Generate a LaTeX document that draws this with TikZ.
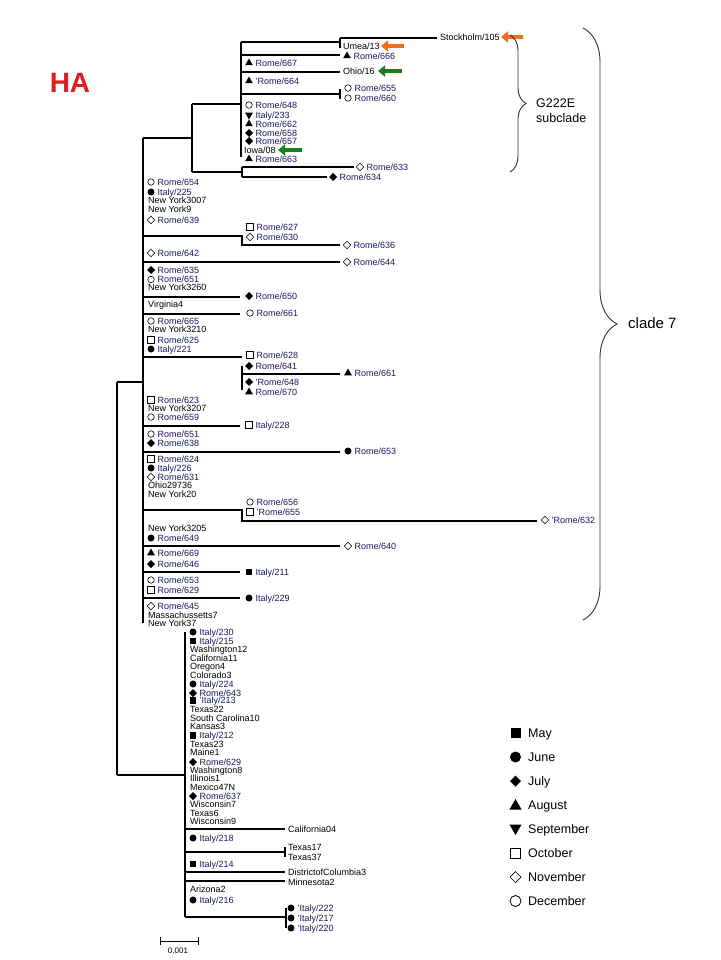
\documentclass[tikz,border=0pt]{standalone}
\usepackage{fontspec}
\setmainfont{Liberation Sans}
\usetikzlibrary{shapes.geometric,decorations.pathreplacing,arrows.meta}
\definecolor{navy}{RGB}{25,25,95}
\definecolor{hared}{RGB}{225,30,30}
\definecolor{arrgreen}{RGB}{25,125,30}
\definecolor{arrorange}{RGB}{245,110,30}
\definecolor{bracegray}{RGB}{50,50,50}
\tikzset{
 sym/.style={inner sep=0pt,outer sep=0pt,line width=0.6pt},
 fsq/.style={sym,rectangle,fill=black,minimum size=6.5pt},
 fci/.style={sym,circle,fill=black,minimum size=7pt},
 fdi/.style={sym,diamond,fill=black,minimum width=8pt,minimum height=8pt},
 ftu/.style={sym,regular polygon,regular polygon sides=3,fill=black,minimum size=9pt},
 ftd/.style={ftu,shape border rotate=180},
 osq/.style={sym,rectangle,draw=black,fill=white,minimum size=6.5pt},
 odi/.style={sym,diamond,draw=black,fill=white,minimum width=7.5pt,minimum height=7.5pt},
 oci/.style={sym,circle,draw=black,fill=white,minimum size=6.5pt},
 lbl/.style={anchor=west,inner sep=0pt,text height=6.4pt,text depth=0pt,font=\fontsize{9}{10}\selectfont,text=navy},
 lblk/.style={lbl,text=black},
 leg/.style={anchor=west,inner sep=0pt,text height=9pt,text depth=0pt,font=\fontsize{12.5}{14}\selectfont,text=black},
 br/.style={line width=1.1pt,black},
 fatarrow/.style={line width=4.5pt,-{Triangle[length=7pt,width=11pt]}},
 cbrace/.style={decorate,line width=0.9pt,draw=bracegray},
}
\newcommand\leafS[5]{\node[#4] (#1m) at (#2,#3) {}; \node[lbl] (#1) at (#2+6.5,#3) {#5};}
\newcommand\leafT[4]{\node[lblk] (#1) at (#2,#3) {#4};}
\begin{document}
\begin{tikzpicture}[x=1pt,y=-1pt]
\fill[white] (0,0) rectangle (720,960);
\useasboundingbox (0,0) rectangle (720,960);

\node[inner sep=0pt,font=\fontsize{28}{28}\selectfont\bfseries,text=hared] (HA) at (70,83) {HA};

% ---------- tree branches ----------
% root
\draw[br] (117,382) -- (117,775);
\draw[br] (117,382) -- (143,382);
\draw[br] (117,775) -- (185,775);
% clade 7 backbone
\draw[br] (143,138) -- (143,623);
\draw[br] (143,138) -- (192,138);
% G222E subclade
\draw[br] (192,104) -- (192,172);
\draw[br] (192,104) -- (241,104);
\draw[br] (241,42) -- (241,157);
\draw[br] (241,42) -- (340,42);
\draw[br] (340,38) -- (340,48);
\draw[br] (340,38) -- (437,38);
\draw[br] (241,55) -- (340,55);
\draw[br] (241,72) -- (340,72);
\draw[br] (241,94) -- (340,94);
\draw[br] (340,89) -- (340,99);
\draw[br] (192,172) -- (242,172);
\draw[br] (242,167) -- (242,177);
\draw[br] (242,167) -- (354,167);
\draw[br] (242,177) -- (327,177);
% clade 7 branches
\draw[br] (143,236) -- (242,236) -- (242,245) -- (340,245);
\draw[br] (143,262) -- (340,262);
\draw[br] (143,297) -- (240,297);
\draw[br] (143,314) -- (240,314);
\draw[br] (143,357) -- (242,357);
\draw[br] (242,366) -- (242,390);
\draw[br] (242,374) -- (340,374);
\draw[br] (143,426) -- (240,426);
\draw[br] (143,452) -- (340,452);
\draw[br] (143,510) -- (242,510) -- (242,521) -- (537,521);
\draw[br] (143,546) -- (340,546);
\draw[br] (143,572) -- (240,572);
\draw[br] (143,598) -- (240,598);
% lower clade
\draw[br] (185,632) -- (185,917);
\draw[br] (185,829) -- (285,829);
\draw[br] (185,852) -- (285,852);
\draw[br] (285,847) -- (285,857);
\draw[br] (185,872) -- (285,872);
\draw[br] (185,881) -- (285,881);
\draw[br] (185,917) -- (286,917);
\draw[br] (286,908) -- (286,928);

% ---------- leaves: subclade ----------
\leafT{sto}{440}{37}{Stockholm/105}
\leafT{ume}{343}{46}{Umea/13}
\leafS{r666}{347}{56}{ftu}{Rome/666}
\leafT{ohio16}{343}{71}{Ohio/16}
\leafS{r655a}{348}{88}{oci}{Rome/655}
\leafS{r660}{348}{98}{oci}{Rome/660}
\leafS{r667}{249}{63}{ftu}{Rome/667}
\leafS{r664}{249}{81}{ftu}{'Rome/664}
\leafS{r648a}{249}{105}{oci}{Rome/648}
\leafS{i233}{249}{115}{ftd}{Italy/233}
\leafS{r662}{249}{124}{ftu}{Rome/662}
\leafS{r658}{249}{133}{fdi}{Rome/658}
\leafS{r657}{249}{141}{fdi}{Rome/657}
\leafT{iowa}{244}{150}{Iowa/08}
\leafS{r663}{249}{159}{ftu}{Rome/663}
\leafS{r633}{360}{167}{odi}{Rome/633}
\leafS{r634}{333}{177}{fdi}{Rome/634}

% ---------- leaves: clade 7 ----------
\leafS{c654}{151}{182}{oci}{Rome/654}
\leafS{c225}{151}{192}{fci}{Italy/225}
\leafT{ny3007}{148}{200}{New York3007}
\leafT{ny9}{148}{209}{New York9}
\leafS{c639}{151}{220}{odi}{Rome/639}
\leafS{c627}{250}{227}{osq}{Rome/627}
\leafS{c630}{250}{237}{odi}{Rome/630}
\leafS{c636}{347}{245}{odi}{Rome/636}
\leafS{c642}{151}{253}{odi}{Rome/642}
\leafS{c644}{347}{262}{odi}{Rome/644}
\leafS{c635}{151}{270}{fdi}{Rome/635}
\leafS{c651a}{151}{279.5}{oci}{Rome/651}
\leafT{ny3260}{148}{287.5}{New York3260}
\leafS{c650}{249}{296}{fdi}{Rome/650}
\leafT{va4}{148}{304}{Virginia4}
\leafS{c661a}{250}{313}{oci}{Rome/661}
\leafS{c665}{151}{321}{oci}{Rome/665}
\leafT{ny3210}{148}{329}{New York3210}
\leafS{c625}{151}{340}{osq}{Rome/625}
\leafS{c221}{151}{349}{fci}{Italy/221}
\leafS{c628}{250}{355}{osq}{Rome/628}
\leafS{c641}{249}{366}{fdi}{Rome/641}
\leafS{c661b}{348}{373}{ftu}{Rome/661}
\leafS{c648b}{249}{382}{fdi}{'Rome/648}
\leafS{c670}{249}{392}{ftu}{Rome/670}
\leafS{c623}{151}{400}{osq}{Rome/623}
\leafT{ny3207}{148}{408}{New York3207}
\leafS{c659}{151}{417}{oci}{Rome/659}
\leafS{c228}{249}{425}{osq}{Italy/228}
\leafS{c651b}{151}{434}{oci}{Rome/651}
\leafS{c638}{151}{443}{fdi}{Rome/638}
\leafS{c653a}{348}{451}{fci}{Rome/653}
\leafS{c624}{151}{459}{osq}{Rome/624}
\leafS{c226}{151}{468}{fci}{Italy/226}
\leafS{c631}{151}{477}{odi}{Rome/631}
\leafT{oh29736}{148}{485}{Ohio29736}
\leafT{ny20}{148}{494}{New York20}
\leafS{c656}{250}{502}{oci}{Rome/656}
\leafS{c655b}{250}{512}{osq}{'Rome/655}
\leafS{c632}{545}{520}{odi}{'Rome/632}
\leafT{ny3205}{148}{528}{New York3205}
\leafS{c649}{151}{538}{fci}{Rome/649}
\leafS{c640}{348}{546}{odi}{Rome/640}
\leafS{c669}{151}{553}{ftu}{Rome/669}
\leafS{c646}{151}{564}{fdi}{Rome/646}
\leafS{c211}{249}{572}{fsq}{Italy/211}
\leafS{c653b}{151}{580}{oci}{Rome/653}
\leafS{c629a}{151}{590}{osq}{Rome/629}
\leafS{c229}{249}{598}{fci}{Italy/229}
\leafS{c645}{151}{606}{odi}{Rome/645}
\leafT{ma7}{148}{615}{Massachussetts7}
\leafT{ny37}{148}{623}{New York37}

% ---------- leaves: lower clade ----------
\leafS{l230}{193}{632}{fci}{Italy/230}
\leafS{l215}{193}{641}{fsq}{Italy/215}
\leafT{wa12}{190}{649}{Washington12}
\leafT{ca11}{190}{658}{California11}
\leafT{or4}{190}{666}{Oregon4}
\leafT{co3}{190}{675}{Colorado3}
\leafS{l224}{193}{684}{fci}{Italy/224}
\leafS{l643}{193}{693}{fdi}{Rome/643}
\leafS{l213}{193}{700.5}{fsq}{'Italy/213}
\leafT{tx22}{190}{709.5}{Texas22}
\leafT{sc10}{190}{718}{South Carolina10}
\leafT{ks3}{190}{726.5}{Kansas3}
\leafS{l212}{193}{735.5}{fsq}{Italy/212}
\leafT{tx23}{190}{744}{Texas23}
\leafT{me1}{190}{752.5}{Maine1}
\leafS{l629}{193}{762}{fdi}{Rome/629}
\leafT{wa8}{190}{770}{Washington8}
\leafT{il1}{190}{778}{Illinois1}
\leafT{mx47}{190}{787}{Mexico47N}
\leafS{l637}{193}{796}{fdi}{Rome/637}
\leafT{wi7}{190}{804}{Wisconsin7}
\leafT{tx6}{190}{813}{Texas6}
\leafT{wi9}{190}{821}{Wisconsin9}
\leafT{ca04}{288}{829}{California04}
\leafS{l218}{193}{838}{fci}{Italy/218}
\leafT{tx17}{288}{847}{Texas17}
\leafT{tx37}{288}{857}{Texas37}
\leafS{l214}{193}{864}{fsq}{Italy/214}
\leafT{dc3}{288}{872}{DistrictofColumbia3}
\leafT{mn2}{288}{882}{Minnesota2}
\leafT{az2}{190}{889}{Arizona2}
\leafS{l216}{193}{900}{fci}{Italy/216}
\leafS{l222}{291}{908}{fci}{'Italy/222}
\leafS{l217}{291}{918}{fci}{'Italy/217}
\leafS{l220}{291}{928}{fci}{'Italy/220}

% ---------- arrows ----------
\coordinate (aS1) at (523,37); \coordinate (aS2) at (501,37);
\coordinate (aU1) at (404,46); \coordinate (aU2) at (381,46);
\coordinate (aO1) at (402,71); \coordinate (aO2) at (378,71);
\coordinate (aI1) at (302,150); \coordinate (aI2) at (278,150);
\draw[fatarrow,arrorange] (aS1) -- (aS2);
\draw[fatarrow,arrorange] (aU1) -- (aU2);
\draw[fatarrow,arrgreen] (aO1) -- (aO2);
\draw[fatarrow,arrgreen] (aI1) -- (aI2);

% ---------- braces ----------
\draw[cbrace,decoration={brace,amplitude=16pt}] (510,35) -- (510,172);
\node[anchor=west,inner sep=0pt,font=\fontsize{12.5}{14}\selectfont] (g222) at (536,103) {G222E};
\node[anchor=west,inner sep=0pt,font=\fontsize{12.5}{14}\selectfont] (subc) at (536,118) {subclade};
\draw[cbrace,decoration={brace,amplitude=34pt}] (583,28) -- (583,620);
\node[anchor=west,inner sep=0pt,font=\fontsize{15}{16}\selectfont] (c7) at (628,323) {clade 7};

% ---------- scale bar ----------
\coordinate (sb1) at (160,941); \coordinate (sb2) at (198,941);
\draw[line width=0.9pt] (sb1) -- (sb2);
\draw[line width=0.9pt] (160,937) -- (160,945);
\draw[line width=0.9pt] (198,937) -- (198,945);
\node[inner sep=0pt,font=\fontsize{8}{9}\selectfont] (sbl) at (178,951) {0.001};

% ---------- legend ----------
\node[fsq,minimum size=10pt] (k1) at (515.5,733) {}; \node[leg] (t1) at (528,733) {May};
\node[fci,minimum size=11pt] (k2) at (515.5,757) {}; \node[leg] (t2) at (528,757) {June};
\node[fdi,minimum width=11pt,minimum height=11pt] (k3) at (515.5,781) {}; \node[leg] (t3) at (528,781) {July};
\node[ftu,minimum size=14pt] (k4) at (515.5,806) {}; \node[leg] (t4) at (528,805) {August};
\node[ftd,minimum size=14pt] (k5) at (515.5,828) {}; \node[leg] (t5) at (528,829) {September};
\node[osq,minimum size=10pt,line width=0.8pt] (k6) at (515.5,853) {}; \node[leg] (t6) at (528,853) {October};
\node[odi,minimum width=11pt,minimum height=11pt,line width=0.7pt] (k7) at (515.5,877) {}; \node[leg] (t7) at (528,877) {November};
\node[oci,minimum size=11pt,line width=0.8pt] (k8) at (515.5,901) {}; \node[leg] (t8) at (528,901) {December};
\end{tikzpicture}
\end{document}
